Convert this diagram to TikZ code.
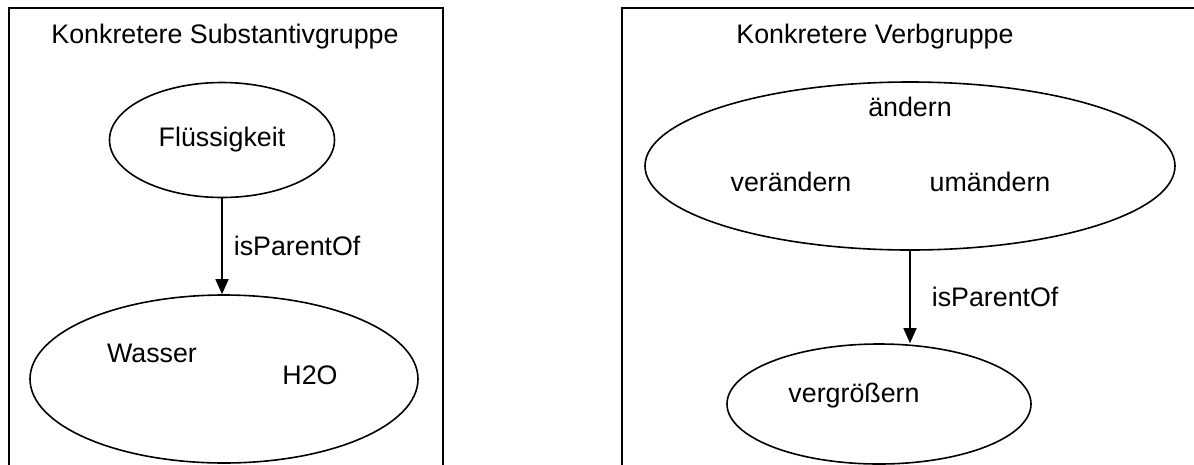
\documentclass[tikz,border=0pt]{standalone}
\usepackage{fontspec}
\setmainfont{Liberation Sans}
\usetikzlibrary{shapes.geometric,arrows.meta}

\tikzset{
    concept/.style={draw,ellipse,line width=1.6pt,inner sep=0pt},
    word/.style={inner sep=0pt,font=\fontsize{26.8}{31}\selectfont},
    relation/.style={-{Triangle[length=15pt,width=13pt]},line width=1.6pt},
}

\begin{document}
\begin{tikzpicture}[x=1pt,y=-1pt]
    % Frame
    \clip (0,0) rectangle (1194,464);
    \useasboundingbox (0,0) rectangle (1194,464);

    % Groups
    \draw[line width=1.6pt] (9,8) rectangle (443,490);
    \draw[line width=1.6pt] (622,8) rectangle (1220,490);
    \node[word] (titleN) at (225,37) {Konkretere Substantivgruppe};
    \node[word] (titleV) at (875,37) {Konkretere Verbgruppe};

    % Substantive
    \node[concept,minimum width=225pt,minimum height=115pt] (fluid) at (222,140) {};
    \node[concept,minimum width=388pt,minimum height=168pt] (water) at (224,379) {};
    \node[word] (fluidTxt) at (222,140) {Flüssigkeit};
    \node[word] (waterTxt) at (152,353) {Wasser};
    \node[word] (hTwoO) at (310,375) {H2O};

    % Verbs
    \node[concept,minimum width=530pt,minimum height=168pt] (change) at (910,166) {};
    \node[concept,minimum width=304pt,minimum height=120pt] (grow) at (879,404) {};
    \node[word] (changeTxt) at (910,107) {ändern};
    \node[word] (alterTxt) at (791,182) {verändern};
    \node[word] (modifyTxt) at (990,182) {umändern};
    \node[word] (growTxt) at (854,396) {vergrößern};

    % Relations
    \draw[relation] (fluid.south) -- (fluid.south |- water.north)
        node[word,midway,right=11pt] (relN) {isParentOf};
    \draw[relation] (change.south) -- (change.south |- grow.north)
        node[word,midway,right=21pt] (relV) {isParentOf};
\end{tikzpicture}
\end{document}
